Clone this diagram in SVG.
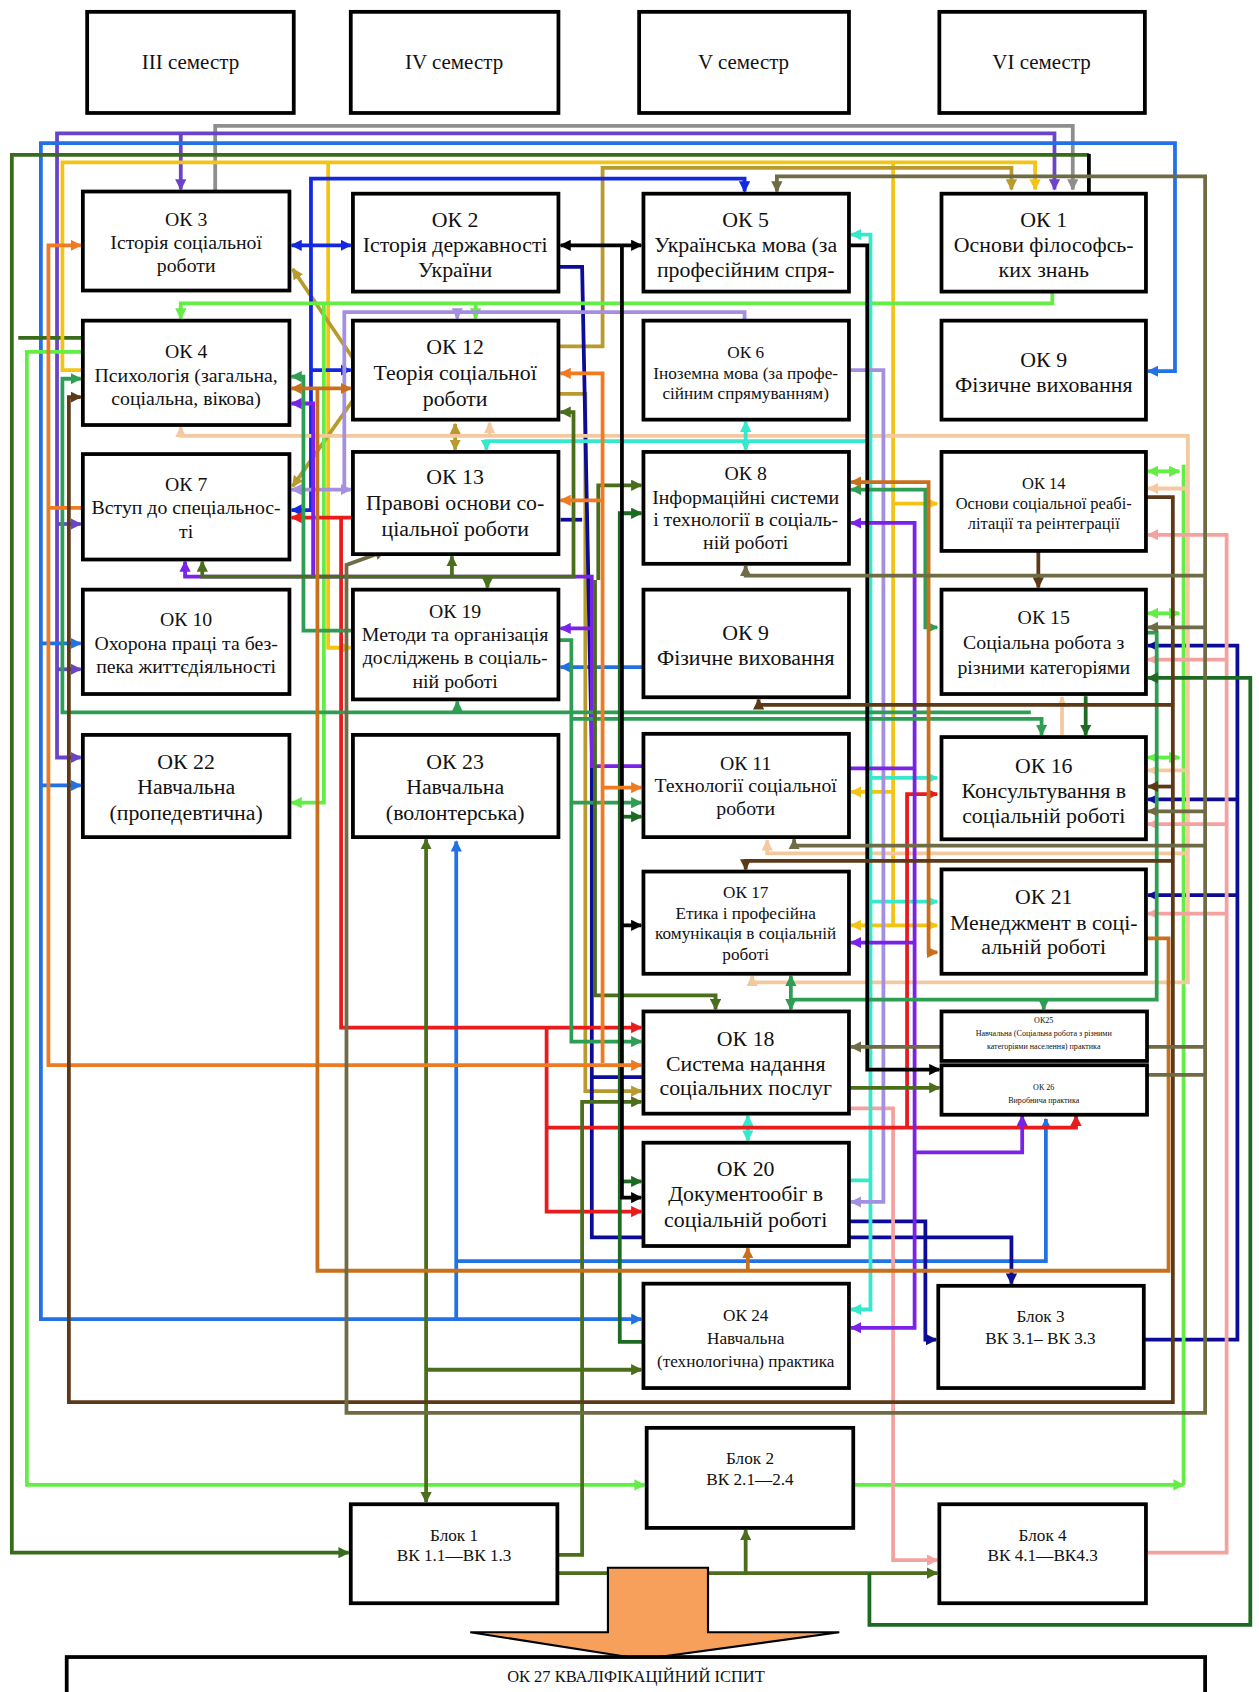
<svg xmlns="http://www.w3.org/2000/svg" width="1259" height="1692" viewBox="0 0 1259 1692">
<style>
.ln{fill:none;stroke-width:3.5;stroke-linejoin:miter}
.node rect{fill:#fff;stroke:#000;stroke-width:3.5}
text{font-family:"Liberation Serif","Times New Roman",serif;fill:#111;text-anchor:middle}
.s20{font-size:20.3px}.s19{font-size:19.5px}.s18{font-size:18.4px}.s16{font-size:16px}.s15{font-size:15.3px}.s8{font-size:7.5px}
.gray{stroke:#8e8e8e}.vio{stroke:#6a44c8}.blue{stroke:#2272e6}.dkg{stroke:#386b1c}.yel{stroke:#f4c414}.gold{stroke:#b99a2c}
.bbl{stroke:#1428e0}.navy{stroke:#0c0c96}.lg{stroke:#62ee44}.peach{stroke:#f5c9a0}.pink{stroke:#f4a2a0}.cyan{stroke:#36e8cc}
.lav{stroke:#a48fe0}.red{stroke:#e81c1c}.pur{stroke:#7a22e8}.sea{stroke:#2f9e55}.olg{stroke:#4b6e1c}.for{stroke:#1d6a22}
.blk{stroke:#000}.ora{stroke:#f07a22}.choc{stroke:#c8701e}.brn{stroke:#5c3a18}.olv{stroke:#6f6b45}
</style>
<defs>
<marker id="m-gray" viewBox="0 0 10 10" refX="9" refY="5" markerWidth="3" markerHeight="3" orient="auto-start-reverse"><path d="M0,0L10,5L0,10z" fill="#8e8e8e"/></marker>
<marker id="m-vio" viewBox="0 0 10 10" refX="9" refY="5" markerWidth="3" markerHeight="3" orient="auto-start-reverse"><path d="M0,0L10,5L0,10z" fill="#6a44c8"/></marker>
<marker id="m-blue" viewBox="0 0 10 10" refX="9" refY="5" markerWidth="3" markerHeight="3" orient="auto-start-reverse"><path d="M0,0L10,5L0,10z" fill="#2272e6"/></marker>
<marker id="m-dkg" viewBox="0 0 10 10" refX="9" refY="5" markerWidth="3" markerHeight="3" orient="auto-start-reverse"><path d="M0,0L10,5L0,10z" fill="#386b1c"/></marker>
<marker id="m-yel" viewBox="0 0 10 10" refX="9" refY="5" markerWidth="3" markerHeight="3" orient="auto-start-reverse"><path d="M0,0L10,5L0,10z" fill="#f4c414"/></marker>
<marker id="m-gold" viewBox="0 0 10 10" refX="9" refY="5" markerWidth="3" markerHeight="3" orient="auto-start-reverse"><path d="M0,0L10,5L0,10z" fill="#b99a2c"/></marker>
<marker id="m-bbl" viewBox="0 0 10 10" refX="9" refY="5" markerWidth="3" markerHeight="3" orient="auto-start-reverse"><path d="M0,0L10,5L0,10z" fill="#1428e0"/></marker>
<marker id="m-navy" viewBox="0 0 10 10" refX="9" refY="5" markerWidth="3" markerHeight="3" orient="auto-start-reverse"><path d="M0,0L10,5L0,10z" fill="#0c0c96"/></marker>
<marker id="m-lg" viewBox="0 0 10 10" refX="9" refY="5" markerWidth="3" markerHeight="3" orient="auto-start-reverse"><path d="M0,0L10,5L0,10z" fill="#62ee44"/></marker>
<marker id="m-peach" viewBox="0 0 10 10" refX="9" refY="5" markerWidth="3" markerHeight="3" orient="auto-start-reverse"><path d="M0,0L10,5L0,10z" fill="#f5c9a0"/></marker>
<marker id="m-pink" viewBox="0 0 10 10" refX="9" refY="5" markerWidth="3" markerHeight="3" orient="auto-start-reverse"><path d="M0,0L10,5L0,10z" fill="#f4a2a0"/></marker>
<marker id="m-cyan" viewBox="0 0 10 10" refX="9" refY="5" markerWidth="3" markerHeight="3" orient="auto-start-reverse"><path d="M0,0L10,5L0,10z" fill="#36e8cc"/></marker>
<marker id="m-lav" viewBox="0 0 10 10" refX="9" refY="5" markerWidth="3" markerHeight="3" orient="auto-start-reverse"><path d="M0,0L10,5L0,10z" fill="#a48fe0"/></marker>
<marker id="m-red" viewBox="0 0 10 10" refX="9" refY="5" markerWidth="3" markerHeight="3" orient="auto-start-reverse"><path d="M0,0L10,5L0,10z" fill="#e81c1c"/></marker>
<marker id="m-pur" viewBox="0 0 10 10" refX="9" refY="5" markerWidth="3" markerHeight="3" orient="auto-start-reverse"><path d="M0,0L10,5L0,10z" fill="#7a22e8"/></marker>
<marker id="m-sea" viewBox="0 0 10 10" refX="9" refY="5" markerWidth="3" markerHeight="3" orient="auto-start-reverse"><path d="M0,0L10,5L0,10z" fill="#2f9e55"/></marker>
<marker id="m-olg" viewBox="0 0 10 10" refX="9" refY="5" markerWidth="3" markerHeight="3" orient="auto-start-reverse"><path d="M0,0L10,5L0,10z" fill="#4b6e1c"/></marker>
<marker id="m-for" viewBox="0 0 10 10" refX="9" refY="5" markerWidth="3" markerHeight="3" orient="auto-start-reverse"><path d="M0,0L10,5L0,10z" fill="#1d6a22"/></marker>
<marker id="m-blk" viewBox="0 0 10 10" refX="9" refY="5" markerWidth="3" markerHeight="3" orient="auto-start-reverse"><path d="M0,0L10,5L0,10z" fill="#000"/></marker>
<marker id="m-ora" viewBox="0 0 10 10" refX="9" refY="5" markerWidth="3" markerHeight="3" orient="auto-start-reverse"><path d="M0,0L10,5L0,10z" fill="#f07a22"/></marker>
<marker id="m-choc" viewBox="0 0 10 10" refX="9" refY="5" markerWidth="3" markerHeight="3" orient="auto-start-reverse"><path d="M0,0L10,5L0,10z" fill="#c8701e"/></marker>
<marker id="m-brn" viewBox="0 0 10 10" refX="9" refY="5" markerWidth="3" markerHeight="3" orient="auto-start-reverse"><path d="M0,0L10,5L0,10z" fill="#5c3a18"/></marker>
<marker id="m-olv" viewBox="0 0 10 10" refX="9" refY="5" markerWidth="3" markerHeight="3" orient="auto-start-reverse"><path d="M0,0L10,5L0,10z" fill="#6f6b45"/></marker>
</defs>
<rect width="1259" height="1692" fill="#fff"/>
<g transform="scale(1.076)">
<g id="connectors">
<path class="ln gray" d="M200,178V117H997V176" marker-end="url(#m-gray)"/>
<path class="ln vio" d="M75,704H53V124H980V176" marker-start="url(#m-vio)" marker-end="url(#m-vio)"/>
<path class="ln vio" d="M53,487H75" marker-end="url(#m-vio)"/>
<path class="ln vio" d="M53,622H75" marker-end="url(#m-vio)"/>
<path class="ln vio" d="M168,124V176" marker-end="url(#m-vio)"/>
<path class="ln blue" d="M1067,345H1092V133H38V1226H596" marker-start="url(#m-blue)" marker-end="url(#m-blue)"/>
<path class="ln blue" d="M38,598H75" marker-end="url(#m-blue)"/>
<path class="ln blue" d="M38,730H75" marker-end="url(#m-blue)"/>
<path class="ln blue" d="M424,1226V782" marker-end="url(#m-blue)"/>
<path class="ln blue" d="M424,1172H972V1040" marker-end="url(#m-blue)"/>
<path class="ln blue" d="M598,620H521" marker-end="url(#m-blue)"/>
<path class="ln dkg" d="M1012,144H11V1443H324" marker-end="url(#m-dkg)"/>
<path class="ln dkg" d="M17,314H77"/>
<path class="ln yel" d="M77,344H58V151H962V176" marker-end="url(#m-yel)"/>
<path class="ln yel" d="M305,151V602H326" marker-end="url(#m-yel)"/>
<path class="ln yel" d="M830,151V860"/>
<path class="ln yel" d="M830,468H871" marker-end="url(#m-yel)"/>
<path class="ln yel" d="M830,736H791" marker-end="url(#m-yel)"/>
<path class="ln yel" d="M791,860H871" marker-start="url(#m-yel)" marker-end="url(#m-yel)"/>
<path class="ln gold" d="M519,322H560V156H940V176" marker-end="url(#m-gold)"/>
<path class="ln gold" d="M519,366H544V1014H596" marker-end="url(#m-gold)"/>
<path class="ln gold" d="M328,333L272,250" marker-end="url(#m-gold)"/>
<path class="ln gold" d="M328,372L272,452" marker-end="url(#m-gold)"/>
<path class="ln gold" d="M423,394V418" marker-start="url(#m-gold)" marker-end="url(#m-gold)"/>
<path class="ln bbl" d="M271,228H326" marker-start="url(#m-bbl)" marker-end="url(#m-bbl)"/>
<path class="ln bbl" d="M692,178V166H289V474H271" marker-start="url(#m-bbl)" marker-end="url(#m-bbl)"/>
<path class="ln bbl" d="M289,344H326" marker-end="url(#m-bbl)"/>
<path class="ln navy" d="M519,248H541L550,700V1150H940V1193" marker-end="url(#m-navy)"/>
<path class="ln navy" d="M541,483H521"/>
<path class="ln navy" d="M550,1001H598"/>
<path class="ln navy" d="M789,1135H860V1245H870" marker-end="url(#m-navy)"/>
<path class="ln navy" d="M1063,1245H1150V600H1067" marker-end="url(#m-navy)"/>
<path class="ln navy" d="M1150,743H1067" marker-end="url(#m-navy)"/>
<path class="ln navy" d="M1150,832H1067" marker-end="url(#m-navy)"/>
<path class="ln lg" d="M77,327H25V1380H599" marker-end="url(#m-lg)"/>
<path class="ln lg" d="M978,271V282H168V296" marker-end="url(#m-lg)"/>
<path class="ln lg" d="M442,282V296" marker-end="url(#m-lg)"/>
<path class="ln lg" d="M301,282V746H271" marker-end="url(#m-lg)"/>
<path class="ln lg" d="M793,1380H1100" marker-end="url(#m-lg)"/>
<path class="ln lg" d="M1100,1380V432"/>
<path class="ln lg" d="M1067,438H1096" marker-start="url(#m-lg)" marker-end="url(#m-lg)"/>
<path class="ln lg" d="M1067,570H1096" marker-start="url(#m-lg)" marker-end="url(#m-lg)"/>
<path class="ln lg" d="M1067,704H1096" marker-start="url(#m-lg)" marker-end="url(#m-lg)"/>
<path class="ln peach" d="M168,397V405H1104V913H699V907" marker-start="url(#m-peach)" marker-end="url(#m-peach)"/>
<path class="ln peach" d="M455,405V393" marker-end="url(#m-peach)"/>
<path class="ln peach" d="M1104,454H1067" marker-end="url(#m-peach)"/>
<path class="ln peach" d="M1104,716H1067" marker-end="url(#m-peach)"/>
<path class="ln peach" d="M1104,793H713V781" marker-end="url(#m-peach)"/>
<path class="ln peach" d="M987,683V648" marker-end="url(#m-peach)"/>
<path class="ln pink" d="M1065,1443H1140V497H1067" marker-end="url(#m-pink)"/>
<path class="ln pink" d="M1140,613H1067" marker-end="url(#m-pink)"/>
<path class="ln pink" d="M1140,766H1067" marker-end="url(#m-pink)"/>
<path class="ln pink" d="M1140,849H1067" marker-end="url(#m-pink)"/>
<path class="ln pink" d="M789,1030H830V1450H871" marker-end="url(#m-pink)"/>
<path class="ln cyan" d="M791,218H809V1217H791" marker-start="url(#m-cyan)" marker-end="url(#m-cyan)"/>
<path class="ln cyan" d="M809,410H452V418" marker-end="url(#m-cyan)"/>
<path class="ln cyan" d="M693,392V418" marker-start="url(#m-cyan)" marker-end="url(#m-cyan)"/>
<path class="ln cyan" d="M809,723H871" marker-end="url(#m-cyan)"/>
<path class="ln cyan" d="M809,838H871" marker-end="url(#m-cyan)"/>
<path class="ln cyan" d="M789,1097H809"/>
<path class="ln cyan" d="M695,1037V1060" marker-start="url(#m-cyan)" marker-end="url(#m-cyan)"/>
<path class="ln lav" d="M692,298V290H320V455"/>
<path class="ln lav" d="M271,455H326" marker-start="url(#m-lav)" marker-end="url(#m-lav)"/>
<path class="ln lav" d="M425,290V296" marker-end="url(#m-lav)"/>
<path class="ln lav" d="M789,344H821V1117H791" marker-end="url(#m-lav)"/>
<path class="ln red" d="M271,481H328" marker-start="url(#m-red)"/>
<path class="ln red" d="M317,481V955H596" marker-end="url(#m-red)"/>
<path class="ln red" d="M508,955V1126H596" marker-end="url(#m-red)"/>
<path class="ln red" d="M508,1048H1000V1037" marker-end="url(#m-red)"/>
<path class="ln red" d="M843,1048V738H871" marker-end="url(#m-red)"/>
<path class="ln pur" d="M172,522V536H550V712H598" marker-start="url(#m-pur)"/>
<path class="ln pur" d="M550,584H521" marker-end="url(#m-pur)"/>
<path class="ln pur" d="M271,375H291V536" marker-start="url(#m-pur)"/>
<path class="ln pur" d="M791,486H850V1234H791" marker-start="url(#m-pur)" marker-end="url(#m-pur)"/>
<path class="ln pur" d="M789,714H850"/>
<path class="ln pur" d="M850,876H791" marker-end="url(#m-pur)"/>
<path class="ln pur" d="M850,1071H950V1037" marker-end="url(#m-pur)"/>
<path class="ln sea" d="M75,352H58V662H958" marker-start="url(#m-sea)"/>
<path class="ln sea" d="M425,662V652" marker-end="url(#m-sea)"/>
<path class="ln sea" d="M271,350H282V586H328" marker-start="url(#m-sea)"/>
<path class="ln sea" d="M519,595H531V968H596" marker-end="url(#m-sea)"/>
<path class="ln sea" d="M531,746H596" marker-end="url(#m-sea)"/>
<path class="ln sea" d="M531,668H968V683" marker-end="url(#m-sea)"/>
<path class="ln sea" d="M791,455H860V583H871" marker-start="url(#m-sea)" marker-end="url(#m-sea)"/>
<path class="ln sea" d="M1065,588H1075V929H735"/>
<path class="ln sea" d="M735,929V907" marker-end="url(#m-sea)"/>
<path class="ln sea" d="M735,929V938" marker-end="url(#m-sea)"/>
<path class="ln sea" d="M970,929V938" marker-end="url(#m-sea)"/>
<path class="ln olg" d="M521,383H533V536H188V522" marker-start="url(#m-olg)" marker-end="url(#m-olg)"/>
<path class="ln olg" d="M420,536V517" marker-end="url(#m-olg)"/>
<path class="ln olg" d="M453,536V546" marker-end="url(#m-olg)"/>
<path class="ln olg" d="M596,451H556V539" marker-start="url(#m-olg)"/>
<path class="ln olg" d="M553,539V925H665V938" marker-end="url(#m-olg)"/>
<path class="ln olg" d="M518,1445H541V1024H596" marker-end="url(#m-olg)"/>
<path class="ln olg" d="M396,780V1396" marker-start="url(#m-olg)" marker-end="url(#m-olg)"/>
<path class="ln olg" d="M396,1273H596" marker-end="url(#m-olg)"/>
<path class="ln olg" d="M789,1011H873" marker-end="url(#m-olg)"/>
<path class="ln olg" d="M518,1462H871" marker-end="url(#m-olg)"/>
<path class="ln olg" d="M693,1462V1422" marker-end="url(#m-olg)"/>
<path class="ln for" d="M596,477H576V1247H598" marker-start="url(#m-for)"/>
<path class="ln for" d="M576,1098H596" marker-end="url(#m-for)"/>
<path class="ln for" d="M576,759H596" marker-end="url(#m-for)"/>
<path class="ln for" d="M808,1462V1510H1162V630H1067" marker-end="url(#m-for)"/>
<path class="ln for" d="M1009,647V683" marker-end="url(#m-for)"/>
<path class="ln blk" d="M521,228H596" marker-start="url(#m-blk)" marker-end="url(#m-blk)"/>
<path class="ln blk" d="M578,228V1113H596" marker-end="url(#m-blk)"/>
<path class="ln blk" d="M578,860H596" marker-end="url(#m-blk)"/>
<path class="ln blk" d="M789,228H806V994H873" marker-end="url(#m-blk)"/>
<path class="ln blk" d="M1012,143V180"/>
<path class="ln ora" d="M75,228H45V990H596" marker-start="url(#m-ora)" marker-end="url(#m-ora)"/>
<path class="ln ora" d="M45,472H77"/>
<path class="ln ora" d="M521,347H560V988" marker-start="url(#m-ora)"/>
<path class="ln ora" d="M560,465H521" marker-end="url(#m-ora)"/>
<path class="ln ora" d="M560,732H596" marker-end="url(#m-ora)"/>
<path class="ln choc" d="M271,361H326" marker-start="url(#m-choc)" marker-end="url(#m-choc)"/>
<path class="ln choc" d="M295,361V1181H1086V872H1065"/>
<path class="ln choc" d="M695,1181V1160" marker-end="url(#m-choc)"/>
<path class="ln choc" d="M791,448H863V885H871" marker-start="url(#m-choc)" marker-end="url(#m-choc)"/>
<path class="ln brn" d="M1065,462H1090V1303H64V369H75" marker-end="url(#m-brn)"/>
<path class="ln brn" d="M1090,655H705V650" marker-end="url(#m-brn)"/>
<path class="ln brn" d="M1090,731H1067" marker-end="url(#m-brn)"/>
<path class="ln brn" d="M1090,800H693V808" marker-end="url(#m-brn)"/>
<path class="ln brn" d="M965,512V546" marker-end="url(#m-brn)"/>
<path class="ln olv" d="M722,178V164H1120V1313H322V525L358,512" marker-start="url(#m-olv)" marker-end="url(#m-olv)"/>
<path class="ln olv" d="M1120,535H693V526" marker-end="url(#m-olv)"/>
<path class="ln olv" d="M1120,583H1067" marker-end="url(#m-olv)"/>
<path class="ln olv" d="M1120,754H1067" marker-end="url(#m-olv)"/>
<path class="ln olv" d="M1120,786H738V780" marker-end="url(#m-olv)"/>
<path class="ln olv" d="M1120,973H1066"/>
<path class="ln olv" d="M875,973H791" marker-end="url(#m-olv)"/>
<path class="ln olv" d="M1066,999H1120"/>
</g>

<g id="sem3" class="node"><rect x="81" y="11" width="192" height="94"/><text class="s19" x="177" y="64">ІІІ семестр</text></g>
<g id="sem4" class="node"><rect x="326" y="11" width="193" height="94"/><text class="s19" x="422" y="64">IV семестр</text></g>
<g id="sem5" class="node"><rect x="594" y="11" width="195" height="94"/><text class="s19" x="691" y="64">V семестр</text></g>
<g id="sem6" class="node"><rect x="873" y="11" width="191" height="94"/><text class="s19" x="968" y="64">VI семестр</text></g>

<g id="ok3" class="node"><rect x="77" y="178" width="192" height="92"/><text class="s18" x="173" y="210">ОК 3</text><text class="s18" x="173" y="231">Історія соціальної</text><text class="s18" x="173" y="253">роботи</text></g>
<g id="ok2" class="node"><rect x="328" y="180" width="191" height="91"/><text class="s20" x="423" y="211">ОК 2</text><text class="s20" x="423" y="234">Історія державності</text><text class="s20" x="423" y="257">України</text></g>
<g id="ok5" class="node"><rect x="598" y="180" width="191" height="91"/><text class="s20" x="693" y="211">ОК 5</text><text class="s20" x="693" y="234">Українська мова (за</text><text class="s20" x="693" y="257">професійним спря-</text></g>
<g id="ok1" class="node"><rect x="875" y="180" width="190" height="91"/><text class="s20" x="970" y="211">ОК 1</text><text class="s20" x="970" y="234">Основи філософсь-</text><text class="s20" x="970" y="257">ких знань</text></g>

<g id="ok4" class="node"><rect x="77" y="298" width="192" height="97"/><text class="s18" x="173" y="333">ОК 4</text><text class="s18" x="173" y="355">Психологія (загальна,</text><text class="s18" x="173" y="376">соціальна, вікова)</text></g>
<g id="ok12" class="node"><rect x="328" y="298" width="191" height="92"/><text class="s20" x="423" y="329">ОК 12</text><text class="s20" x="423" y="353">Теорія соціальної</text><text class="s20" x="423" y="377">роботи</text></g>
<g id="ok6" class="node"><rect x="598" y="298" width="191" height="92"/><text class="s16" x="693" y="333">ОК 6</text><text class="s16" x="693" y="352">Іноземна мова (за профе-</text><text class="s16" x="693" y="371">сійним спрямуванням)</text></g>
<g id="ok9b" class="node"><rect x="875" y="298" width="190" height="92"/><text class="s20" x="970" y="341">ОК 9</text><text class="s20" x="970" y="364">Фізичне виховання</text></g>

<g id="ok7" class="node"><rect x="77" y="422" width="192" height="98"/><text class="s18" x="173" y="456">ОК 7</text><text class="s18" x="173" y="478">Вступ до спеціальнос-</text><text class="s18" x="173" y="500">ті</text></g>
<g id="ok13" class="node"><rect x="328" y="420" width="191" height="95"/><text class="s20" x="423" y="450">ОК 13</text><text class="s20" x="423" y="474">Правові основи со-</text><text class="s20" x="423" y="498">ціальної роботи</text></g>
<g id="ok8" class="node"><rect x="598" y="420" width="191" height="104"/><text class="s18" x="693" y="446">ОК 8</text><text class="s18" x="693" y="468">Інформаційні системи</text><text class="s18" x="693" y="489">і технології в соціаль-</text><text class="s18" x="693" y="510">ній роботі</text></g>
<g id="ok14" class="node"><rect x="875" y="420" width="190" height="92"/><text class="s15" x="970" y="454">ОК 14</text><text class="s15" x="970" y="473">Основи соціальної реабі-</text><text class="s15" x="970" y="492">літації та реінтеграції</text></g>

<g id="ok10" class="node"><rect x="77" y="548" width="192" height="97"/><text class="s18" x="173" y="582">ОК 10</text><text class="s18" x="173" y="604">Охорона праці та без-</text><text class="s18" x="173" y="625">пека життєдіяльності</text></g>
<g id="ok19" class="node"><rect x="328" y="548" width="191" height="102"/><text class="s18" x="423" y="574">ОК 19</text><text class="s18" x="423" y="596">Методи та організація</text><text class="s18" x="423" y="617">досліджень в соціаль-</text><text class="s18" x="423" y="639">ній роботі</text></g>
<g id="ok9" class="node"><rect x="598" y="548" width="191" height="100"/><text class="s20" x="693" y="595">ОК 9</text><text class="s20" x="693" y="618">Фізичне виховання</text></g>
<g id="ok15" class="node"><rect x="875" y="548" width="190" height="97"/><text class="s18" x="970" y="580">ОК 15</text><text class="s18" x="970" y="603">Соціальна робота з</text><text class="s18" x="970" y="626">різними категоріями</text></g>

<g id="ok22" class="node"><rect x="77" y="683" width="192" height="95"/><text class="s20" x="173" y="715">ОК 22</text><text class="s20" x="173" y="738">Навчальна</text><text class="s20" x="173" y="762">(пропедевтична)</text></g>
<g id="ok23" class="node"><rect x="328" y="683" width="191" height="95"/><text class="s20" x="423" y="715">ОК 23</text><text class="s20" x="423" y="738">Навчальна</text><text class="s20" x="423" y="762">(волонтерська)</text></g>
<g id="ok11" class="node"><rect x="598" y="682" width="191" height="96"/><text class="s18" x="693" y="716">ОК 11</text><text class="s18" x="693" y="736">Технології соціальної</text><text class="s18" x="693" y="757">роботи</text></g>
<g id="ok16" class="node"><rect x="875" y="685" width="190" height="95"/><text class="s20" x="970" y="718">ОК 16</text><text class="s20" x="970" y="742">Консультування в</text><text class="s20" x="970" y="765">соціальній роботі</text></g>

<g id="ok17" class="node"><rect x="598" y="810" width="191" height="95"/><text class="s16" x="693" y="835">ОК 17</text><text class="s16" x="693" y="854">Етика і професійна</text><text class="s16" x="693" y="873">комунікація в соціальній</text><text class="s16" x="693" y="892">роботі</text></g>
<g id="ok21" class="node"><rect x="875" y="808" width="190" height="97"/><text class="s20" x="970" y="840">ОК 21</text><text class="s20" x="970" y="864">Менеджмент в соці-</text><text class="s20" x="970" y="887">альній роботі</text></g>

<g id="ok18" class="node"><rect x="598" y="940" width="191" height="95"/><text class="s20" x="693" y="972">ОК 18</text><text class="s20" x="693" y="995">Система надання</text><text class="s20" x="693" y="1018">соціальних послуг</text></g>
<g id="ok25" class="node"><rect x="875" y="940" width="191" height="46"/><text class="s8" x="970" y="951">ОК25</text><text class="s8" x="970" y="963">Навчальна (Соціальна робота з різними</text><text class="s8" x="970" y="975">категоріями населення) практика</text></g>
<g id="ok26" class="node"><rect x="875" y="990" width="191" height="46"/><text class="s8" x="970" y="1013">ОК 26</text><text class="s8" x="970" y="1025">Виробнича практика</text></g>

<g id="ok20" class="node"><rect x="598" y="1062" width="191" height="96"/><text class="s20" x="693" y="1093">ОК 20</text><text class="s20" x="693" y="1116">Документообіг в</text><text class="s20" x="693" y="1140">соціальній роботі</text></g>
<g id="ok24" class="node"><rect x="598" y="1193" width="191" height="97"/><text class="s16" x="693" y="1228">ОК 24</text><text class="s16" x="693" y="1249">Навчальна</text><text class="s16" x="693" y="1270">(технологічна) практика</text></g>
<g id="blok3" class="node"><rect x="872" y="1195" width="191" height="95"/><text class="s16" x="967" y="1229">Блок 3</text><text class="s16" x="967" y="1249">ВК 3.1– ВК 3.3</text></g>
<g id="blok2" class="node"><rect x="601" y="1327" width="192" height="93"/><text class="s16" x="697" y="1361">Блок 2</text><text class="s16" x="697" y="1380">ВК 2.1—2.4</text></g>
<g id="blok1" class="node"><rect x="326" y="1398" width="192" height="92"/><text class="s16" x="422" y="1432">Блок 1</text><text class="s16" x="422" y="1451">ВК 1.1—ВК 1.3</text></g>
<g id="blok4" class="node"><rect x="873" y="1398" width="192" height="92"/><text class="s16" x="969" y="1432">Блок 4</text><text class="s16" x="969" y="1451">ВК 4.1—ВК4.3</text></g>

<g id="bigarrow"><path d="M565,1457H658V1517H780L597,1542L437,1517H565Z" fill="#f7a05c" stroke="#000" stroke-width="2"/></g>
<g id="ok27" class="node"><rect x="62" y="1540" width="1058" height="60"/><text class="s15" x="591" y="1563">ОК 27 КВАЛІФІКАЦІЙНИЙ ІСПИТ</text></g>
</g>
</svg>
